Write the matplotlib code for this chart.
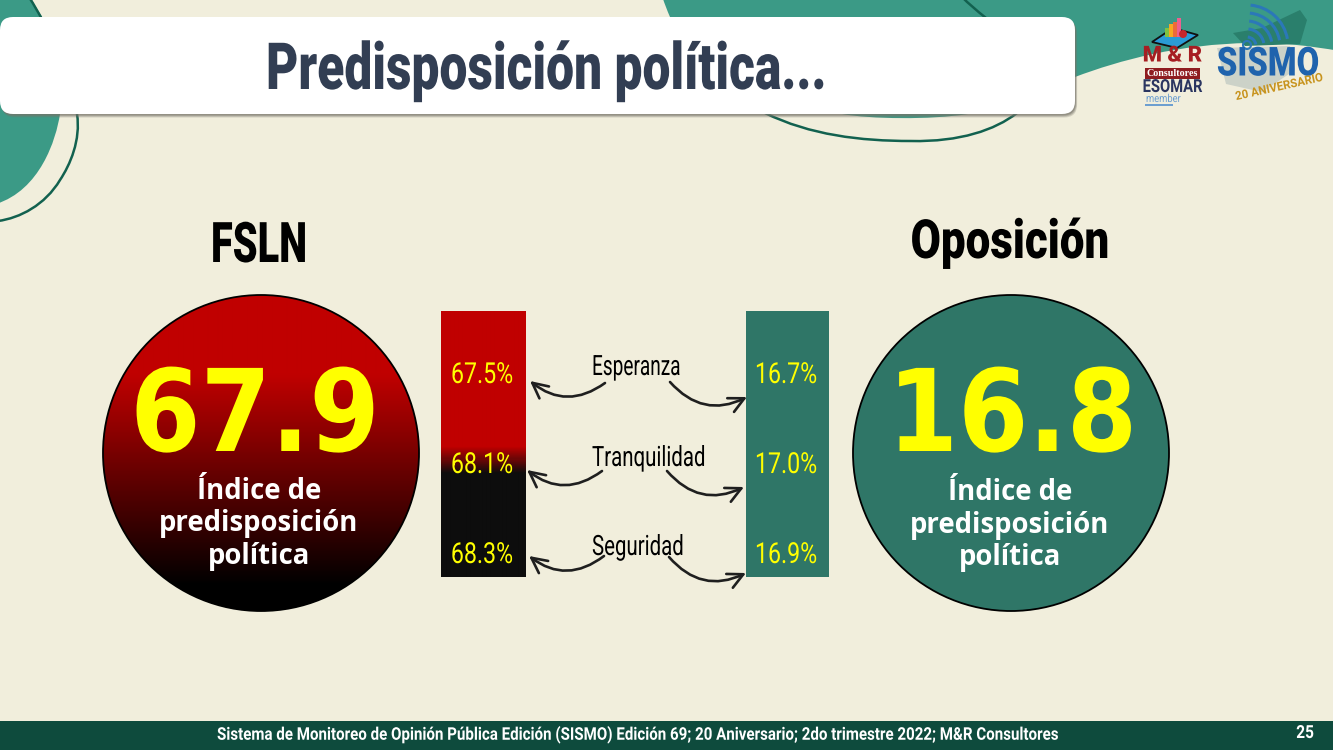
import numpy as np
import matplotlib
matplotlib.use("Agg")
import matplotlib.pyplot as plt
from matplotlib.patches import Circle, Rectangle, FancyBboxPatch, PathPatch, FancyArrowPatch, Arc, Polygon
from matplotlib.path import Path
from matplotlib.transforms import Affine2D
from matplotlib.patheffects import AbstractPathEffect
from matplotlib.colors import LinearSegmentedColormap

# ---------- data ----------
title = "Predisposición política..."
groups = ["FSLN", "Oposición"]
indices = ["67.9", "16.8"]
index_label = "Índice de\npredisposición\npolítica"
dimensions = ["Esperanza", "Tranquilidad", "Seguridad"]
fsln_values = ["67.5%", "68.1%", "68.3%"]
opos_values = ["16.7%", "17.0%", "16.9%"]
footer = "Sistema de Monitoreo de Opinión Pública Edición (SISMO) Edición 69; 20 Aniversario; 2do trimestre 2022; M&R Consultores"
page = "25"

# ---------- style ----------
NARROW = ["Roboto", "DejaVu Sans"]
BG, TEAL, DARK, OPP = "#f1eedc", "#3b9a86", "#12614f", "#2f7667"
YEL = "#ffff00"
px = 0.72

fig = plt.figure(figsize=(13.33, 7.5), dpi=100, facecolor=BG)
ax = fig.add_axes([0, 0, 1, 1])
ax.axis("off")
ax.set_xlim(0, 1333)
ax.set_ylim(750, 0)


class HScale(AbstractPathEffect):
    """Condense real text horizontally about a display x position."""
    def __init__(self, factor, cx):
        super().__init__()
        self.factor, self.cx = factor, cx

    def draw_path(self, renderer, gc, tpath, affine, rgbFace=None):
        t = affine + Affine2D().translate(-self.cx, 0).scale(self.factor, 1).translate(self.cx, 0)
        renderer.draw_path(gc, tpath, t, rgbFace)


def ntext(x, y, s, em, factor, color, weight="bold", ha="center", va="center", rotation=0, family=None):
    cx = ax.transData.transform((x, 0))[0]
    return ax.text(x, y, s, family=family or NARROW, weight=weight, size=em * px, color=color, ha=ha, va=va,
                   rotation=rotation, zorder=6, path_effects=[HScale(factor, cx)])


def curve(pts, **kw):
    codes = [Path.MOVETO] + [Path.CURVE4] * (len(pts) - 1)
    return PathPatch(Path(pts, codes), **kw)


# ---------- background shapes ----------
ax.add_patch(curve([(-4, -4), (10, -4), (20, -4), (30, -4), (34, 5), (38, 10), (42, 17),
                    (55, 50), (65, 85), (60, 114), (56, 140), (40, 190), (-4, 204),
                    (-4, 130), (-4, 60), (-4, -4)], fc=TEAL, ec="none", zorder=1))
ax.add_patch(curve([(29, -3), (50, 30), (70, 75), (77, 114), (81, 140), (70, 165), (60, 180),
                    (45, 205), (20, 218), (-2, 221)], fc="none", ec=DARK, lw=1.8, zorder=2))
ax.add_patch(curve([(662, -4), (665, 5), (667, 10), (670, 17), (700, 70), (770, 100), (842, 114),
                    (870, 119), (930, 120), (968, 114), (1000, 103), (1040, 90), (1075, 77),
                    (1120, 60), (1180, 44), (1250, 43), (1280, 42), (1310, 46), (1340, 51),
                    (1340, 30), (1340, 10), (1340, -4), (1100, -4), (900, -4), (662, -4)],
                   fc=TEAL, ec="none", zorder=1))
ax.add_patch(curve([(962, -3), (969, 4), (976, 10), (986, 18)], fc="none", ec=DARK, lw=1.8, zorder=2))
ax.add_patch(curve([(765, 113), (810, 135), (860, 141), (911, 141), (960, 142), (995, 130), (1017, 113)],
                   fc="none", ec=DARK, lw=1.8, zorder=2))

# ---------- title box ----------
for d, a in [(3.5, 0.25), (2.5, 0.35), (1.5, 0.5)]:
    ax.add_patch(FancyBboxPatch((d * 0.6, 17 + d), 1075, 97, boxstyle="round,pad=0,rounding_size=13",
                                fc="#77746a", ec="none", alpha=a, zorder=3))
ax.add_patch(FancyBboxPatch((0, 17), 1075, 97, boxstyle="round,pad=0,rounding_size=13",
                            fc="white", ec="none", zorder=4))
ntext(546, 89, title, 65, 0.765, "#323e53", weight=900, va="baseline")

# ---------- circles ----------
cmap_c = LinearSegmentedColormap.from_list("c", [(0, "#c00000"), (0.25, "#c00000"), (0.92, "#000000"), (1, "#000000")])
grad = np.linspace(0, 1, 316)[:, None]
im = ax.imshow(grad, cmap=cmap_c, extent=(103, 419, 611, 295), aspect="auto", zorder=3, interpolation="bilinear")
im.set_clip_path(Circle((261, 453), 158, transform=ax.transData))
ax.add_patch(Circle((261, 453), 158, fc="none", ec="black", lw=1.3, zorder=4))
ax.add_patch(Circle((1011, 453), 158, fc=OPP, ec="black", lw=1.3, zorder=3))

ntext(259, 262, groups[0], 56, 0.71, "black", weight=900, va="baseline")
ntext(1010, 258, groups[1], 54, 0.813, "black", weight=900, va="baseline")
ntext(255, 451, indices[0], 114, 0.887, YEL, family="DejaVu Sans", va="baseline")
ntext(1012.5, 451, indices[1], 114, 0.887, YEL, family="DejaVu Sans", va="baseline")
for cx, ly in zip([259, 1010], [524, 525]):
    ax.text(cx, ly, index_label, family="Open Sans", weight="bold", size=27.5 * px, color="white",
            ha="center", va="center", linespacing=1.14, zorder=6)

# ---------- bars ----------
cmap_b = LinearSegmentedColormap.from_list("b", [(0, "#c00000"), (0.51, "#c00000"), (0.61, "#0d0d0d"), (1, "#0d0d0d")])
ax.imshow(np.linspace(0, 1, 266)[:, None], cmap=cmap_b, extent=(441, 526, 577, 311), aspect="auto", zorder=3,
          interpolation="bilinear")
ax.add_patch(Rectangle((746, 311), 83, 266, fc=OPP, ec="none", zorder=3))

val_y = [383, 473, 563]
lab_y = [375, 466, 555]
lab_fac = [0.68, 0.73, 0.73]
for i in range(3):
    ntext(482, val_y[i], fsln_values[i], 29, 0.8, YEL, weight="normal", va="baseline")
    ntext(786, val_y[i], opos_values[i], 29, 0.8, YEL, weight="normal", va="baseline")
    ntext(592, lab_y[i], dimensions[i], 28, lab_fac[i], "black", weight="normal", ha="left", va="baseline")

# ---------- arrows ----------
ink = "#1f1f1f"
left_arrows = [((605, 383), (530, 381)), ((602, 471), (527, 470)), ((604, 556), (529, 556))]
right_arrows = [((670, 382), (747, 397)), ((667, 471), (744, 487)), ((669, 557), (746, 573))]
style = "->,head_length=11,head_width=5.5"
for a, b in left_arrows:
    ax.add_patch(FancyArrowPatch(a, b, connectionstyle="arc3,rad=-0.38", arrowstyle=style,
                                 color=ink, lw=1.9, zorder=6, shrinkA=0, shrinkB=0))
for a, b in right_arrows:
    ax.add_patch(FancyArrowPatch(a, b, connectionstyle="arc3,rad=0.38", arrowstyle=style,
                                 color=ink, lw=1.9, zorder=6, shrinkA=0, shrinkB=0))

# ---------- footer ----------
ax.add_patch(Rectangle((0, 721), 1333, 29, fc="#0e4b3d", ec="none", zorder=3))
ntext(638.5, 735, footer, 17.5, 0.863, "white")
ntext(1305, 733, page, 18, 0.86, "white")

# ---------- logos (approximate) ----------
ax.add_patch(Polygon([(1152, 42), (1173, 28), (1198, 35), (1177, 48)], fc="#2a9bd6", ec="#111111", lw=1.3, zorder=5))
for x0, h, c in [(1165, 9, "#7fc241"), (1169, 13, "#f7a823"), (1173, 15, "#ee6a3a"), (1177, 19, "#ee5f8f")]:
    ax.add_patch(Rectangle((x0, 37 - h), 4, h, fc=c, ec="none", zorder=6))
ax.add_patch(Circle((1183, 34), 4, fc="#c8262c", ec="none", zorder=6))
ntext(1172.5, 55.5, "M & R", 22, 1.0, "#a61e22", weight=900)
ax.add_patch(Rectangle((1145, 68), 55, 11, fc="#8f1c20", ec="none", zorder=5))
ax.text(1172.5, 73.5, "Consultores", family="Liberation Serif", weight="bold", size=10 * px, color="white",
        ha="center", va="center", zorder=6)
ntext(1172.5, 87, "ESOMAR", 18, 0.82, "#2a3560")
ntext(1146, 99, "member", 11, 0.85, "#6d9fd0", weight="normal", ha="left")
ax.add_patch(Rectangle((1145, 104), 28, 1.5, fc="#6d9fd0", ec="none", zorder=5))

ax.add_patch(Polygon([(1233, 33), (1262, 28), (1300, 10), (1307, 20), (1300, 44), (1245, 46)],
                     fc="#2a7f6c", ec="none", zorder=2))
ax.add_patch(Polygon([(1217, 48), (1290, 46), (1295, 70), (1262, 92), (1226, 84)],
                     fc="#9fb0b0", ec="none", alpha=0.45, zorder=2))
for r in [9, 17, 25, 33, 41]:
    ax.add_patch(Arc((1247, 46), 2 * r, 2 * r, theta1=-85, theta2=-10, ec="#2b78b8", lw=2.2, zorder=5))
ax.add_patch(Circle((1247, 45), 4, fc="none", ec="#2b78b8", lw=1.5, zorder=5))
ntext(1268, 64, "SISMO", 40, 0.82, "#1f63ad", weight=900)
ntext(1279, 87, "20 ANIVERSARIO", 12, 0.95, "#c8941f", rotation=12)

fig.savefig("out.png", dpi=100, facecolor=BG)
